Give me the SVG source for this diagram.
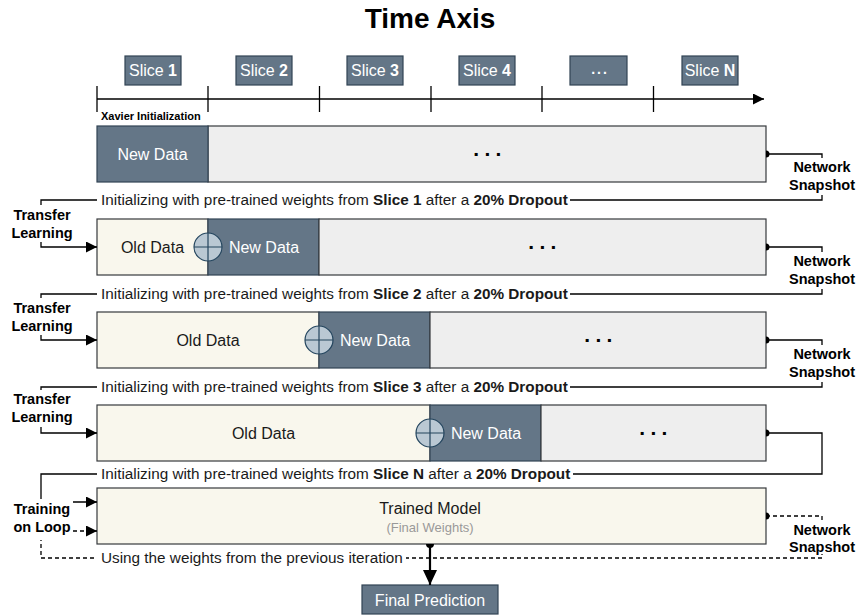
<svg xmlns="http://www.w3.org/2000/svg" width="859" height="615" viewBox="0 0 859 615">
<style>
text{font-family:"Liberation Sans",Arial,Helvetica,sans-serif}
.dark{fill:#647687;stroke:#314354;stroke-width:1.2}
.light{fill:#eeeeee;stroke:#36393d;stroke-width:1.2}
.old{fill:#f9f7ed;stroke:#36393d;stroke-width:1.2}
.sum{fill:#bac8d3;stroke:#23445d;stroke-width:1.2}
.wt{fill:#ffffff;font-size:16px;text-anchor:middle}
.dt{fill:#1a1a1a;font-size:16px;text-anchor:middle}
.dots{fill:#000;font-size:21px;font-weight:bold;text-anchor:middle;letter-spacing:5.3px}
.lbl{fill:#000;font-size:14.5px;font-weight:bold;text-anchor:middle}
.ln{fill:#1a1a1a;font-size:15.3px}
.bg{fill:#ffffff;stroke:none}
.conn{fill:none;stroke:#000;stroke-width:1.3}
.dash{stroke-dasharray:4 3}
.tick{stroke:#000;stroke-width:1.3}
</style>
<defs>
<marker id="arr" markerUnits="userSpaceOnUse" markerWidth="12" markerHeight="12" refX="11" refY="5.5" orient="auto">
<path d="M0,0 L11,5.5 L0,11 Z" fill="#000"/>
</marker>
<marker id="arrBig" markerUnits="userSpaceOnUse" markerWidth="16" markerHeight="16" refX="15" refY="7" orient="auto">
<path d="M0,0 L15,7 L0,14 Z" fill="#000"/>
</marker>
</defs>

<text x="430" y="28" style="font-size:28px;font-weight:bold;text-anchor:middle;fill:#000">Time Axis</text>

<g id="axis">
<line x1="97" y1="99" x2="764" y2="99" stroke="#000" stroke-width="1.5" marker-end="url(#arr)"/>
<line class="tick" x1="97" y1="86" x2="97" y2="112"/>
<line class="tick" x1="208" y1="86" x2="208" y2="112"/>
<line class="tick" x1="319.5" y1="86" x2="319.5" y2="112"/>
<line class="tick" x1="431" y1="86" x2="431" y2="112"/>
<line class="tick" x1="542" y1="86" x2="542" y2="112"/>
<line class="tick" x1="653.5" y1="86" x2="653.5" y2="112"/>
<text x="101" y="120" style="font-size:11px;font-weight:bold;fill:#000">Xavier Initialization</text>
</g>

<g id="slice1"><rect class="dark" x="125" y="56" width="56" height="29"/><text class="wt" x="153" y="76">Slice <tspan font-weight="bold">1</tspan></text></g>
<g id="slice2"><rect class="dark" x="236" y="56" width="56" height="29"/><text class="wt" x="264" y="76">Slice <tspan font-weight="bold">2</tspan></text></g>
<g id="slice3"><rect class="dark" x="347" y="56" width="56" height="29"/><text class="wt" x="375" y="76">Slice <tspan font-weight="bold">3</tspan></text></g>
<g id="slice4"><rect class="dark" x="459" y="56" width="56" height="29"/><text class="wt" x="487" y="76">Slice <tspan font-weight="bold">4</tspan></text></g>
<g id="sliceDots"><rect class="dark" x="570" y="56" width="57" height="29"/><text x="600" y="74" style="fill:#fff;font-size:14px;font-weight:bold;text-anchor:middle;letter-spacing:2px">...</text></g>
<g id="sliceN"><rect class="dark" x="682" y="56" width="56" height="29"/><text class="wt" x="710" y="76">Slice <tspan font-weight="bold">N</tspan></text></g>

<g id="row1">
<rect class="light" x="208" y="126" width="558" height="56"/>
<rect class="dark" x="97" y="126" width="111" height="56"/>
<text class="wt" x="152.5" y="160">New Data</text>
<text class="dots" x="490" y="156">...</text>
</g>

<g id="row2">
<rect class="old" x="97" y="219" width="111" height="56"/>
<rect class="dark" x="208" y="219" width="111" height="56"/>
<rect class="light" x="319" y="219" width="447" height="56"/>
<text class="dt" x="152.5" y="253">Old Data</text>
<text class="wt" x="264" y="253">New Data</text>
<text class="dots" x="545" y="249">...</text>
<g id="sum2"><circle class="sum" cx="208" cy="247" r="14"/><path d="M194 247 H222 M208 233 V261" stroke="#23445d" stroke-width="1.2"/></g>
</g>

<g id="row3">
<rect class="old" x="97" y="312" width="222" height="56"/>
<rect class="dark" x="319" y="312" width="111" height="56"/>
<rect class="light" x="430" y="312" width="336" height="56"/>
<text class="dt" x="208" y="346">Old Data</text>
<text class="wt" x="375" y="346">New Data</text>
<text class="dots" x="601" y="342">...</text>
<g id="sum3"><circle class="sum" cx="319" cy="340" r="14"/><path d="M305 340 H333 M319 326 V354" stroke="#23445d" stroke-width="1.2"/></g>
</g>

<g id="row4">
<rect class="old" x="97" y="405" width="333" height="56"/>
<rect class="dark" x="430" y="405" width="111" height="56"/>
<rect class="light" x="541" y="405" width="225" height="56"/>
<text class="dt" x="263.5" y="439">Old Data</text>
<text class="wt" x="486" y="439">New Data</text>
<text class="dots" x="656" y="435">...</text>
<g id="sum4"><circle class="sum" cx="430" cy="433" r="14"/><path d="M416 433 H444 M430 419 V447" stroke="#23445d" stroke-width="1.2"/></g>
</g>

<g id="row5">
<rect class="old" x="97" y="488" width="669" height="56"/>
<text class="dt" x="430" y="514">Trained Model</text>
<text x="430" y="532" style="fill:#999999;font-size:13px;text-anchor:middle">(Final Weights)</text>
</g>

<g id="finalPrediction">
<rect class="dark" x="362" y="585" width="136" height="29"/>
<text class="wt" x="430" y="606">Final Prediction</text>
</g>

<g id="connectors">
<path class="conn" d="M766 154 H822 V200 H41 V247 H97" marker-end="url(#arr)"/>
<path class="conn" d="M766 247 H822 V294 H41 V340 H97" marker-end="url(#arr)"/>
<path class="conn" d="M766 340 H822 V387 H41 V433 H97" marker-end="url(#arr)"/>
<path class="conn" d="M766 433 H822 V474 H41 V502 H97" marker-end="url(#arr)"/>
<path class="conn dash" d="M766 516 H822 V558 H41 V531 H97" marker-end="url(#arr)"/>
<path d="M430 544 V585" fill="none" stroke="#000" stroke-width="2.2" marker-end="url(#arrBig)"/>
<path d="M766 150.5 A3.5 3.5 0 0 1 766 157.5 Z M766 243.5 A3.5 3.5 0 0 1 766 250.5 Z M766 336.5 A3.5 3.5 0 0 1 766 343.5 Z M766 429.5 A3.5 3.5 0 0 1 766 436.5 Z M766 512.5 A3.5 3.5 0 0 1 766 519.5 Z M426 544 A4 4 0 0 0 434 544 Z" fill="#000"/>
</g>

<g id="edgeLabels">
<rect class="bg" x="97" y="191" width="473" height="18"/>
<text class="ln" x="101" y="205">Initializing with pre-trained weights from <tspan font-weight="bold">Slice 1</tspan> after a <tspan font-weight="bold">20% Dropout</tspan></text>
<rect class="bg" x="97" y="285" width="473" height="18"/>
<text class="ln" x="101" y="299">Initializing with pre-trained weights from <tspan font-weight="bold">Slice 2</tspan> after a <tspan font-weight="bold">20% Dropout</tspan></text>
<rect class="bg" x="97" y="378" width="473" height="18"/>
<text class="ln" x="101" y="392">Initializing with pre-trained weights from <tspan font-weight="bold">Slice 3</tspan> after a <tspan font-weight="bold">20% Dropout</tspan></text>
<rect class="bg" x="97" y="465" width="476" height="18"/>
<text class="ln" x="101" y="479">Initializing with pre-trained weights from <tspan font-weight="bold">Slice N</tspan> after a <tspan font-weight="bold">20% Dropout</tspan></text>
<rect class="bg" x="97" y="549" width="309" height="18"/>
<text class="ln" x="101" y="563">Using the weights from the previous iteration</text>

<rect class="bg" x="786" y="158" width="73" height="37"/>
<text class="lbl" x="822" y="172">Network</text><text class="lbl" x="822" y="190">Snapshot</text>
<rect class="bg" x="786" y="252" width="73" height="37"/>
<text class="lbl" x="822" y="266">Network</text><text class="lbl" x="822" y="284">Snapshot</text>
<rect class="bg" x="786" y="345" width="73" height="37"/>
<text class="lbl" x="822" y="359">Network</text><text class="lbl" x="822" y="377">Snapshot</text>
<rect class="bg" x="786" y="521" width="73" height="33"/>
<text class="lbl" x="822" y="535">Network</text><text class="lbl" x="822" y="552">Snapshot</text>

<rect class="bg" x="10" y="205" width="64" height="37"/>
<text class="lbl" x="42" y="220">Transfer</text><text class="lbl" x="42" y="238">Learning</text>
<rect class="bg" x="10" y="298" width="64" height="37"/>
<text class="lbl" x="42" y="313">Transfer</text><text class="lbl" x="42" y="331">Learning</text>
<rect class="bg" x="10" y="390" width="64" height="37"/>
<text class="lbl" x="42" y="404">Transfer</text><text class="lbl" x="42" y="422">Learning</text>
<rect class="bg" x="10" y="499" width="63" height="41"/>
<text class="lbl" x="42" y="514">Training</text><text class="lbl" x="42" y="532">on Loop</text>
</g>
</svg>
